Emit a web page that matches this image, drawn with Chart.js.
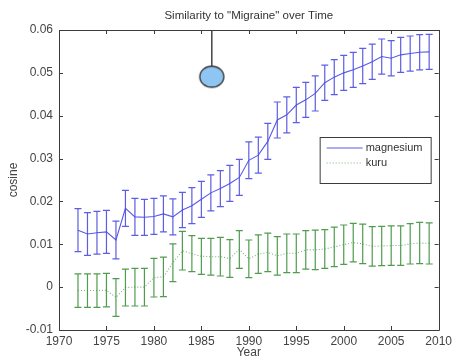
<!DOCTYPE html>
<html><head><meta charset="utf-8">
<script src="https://cdn.jsdelivr.net/npm/chart.js@4/dist/chart.umd.min.js"></script>
<style>html,body{margin:0;padding:0;background:#fff}canvas{display:block}</style>
</head><body>
<canvas id="c" width="456" height="361"></canvas>
<script>
const chartTitle = 'Similarity to "Migraine" over Time';
const xTitle = 'Year';
const yTitle = 'cosine';
const seriesNames = ['magnesium', 'kuru'];
const years = [1972,1973,1974,1975,1976,1977,1978,1979,1980,1981,1982,1983,1984,1985,1986,1987,1988,1989,1990,1991,1992,1993,1994,1995,1996,1997,1998,1999,2000,2001,2002,2003,2004,2005,2006,2007,2008,2009];
const magnesium = [0.0133,0.0124,0.0127,0.0129,0.0110,0.0184,0.0164,0.0163,0.0165,0.0171,0.0164,0.0180,0.0190,0.0205,0.0220,0.0230,0.0242,0.0256,0.0296,0.0308,0.0340,0.0390,0.0402,0.0425,0.0437,0.0452,0.0477,0.0490,0.0500,0.0507,0.0516,0.0526,0.0538,0.0534,0.0542,0.0545,0.0548,0.0549];
const magnesiumErr = [0.0050,0.0050,0.0050,0.0050,0.0044,0.0042,0.0043,0.0042,0.0042,0.0042,0.0042,0.0041,0.0042,0.0042,0.0042,0.0042,0.0042,0.0042,0.0043,0.0042,0.0042,0.0042,0.0042,0.0041,0.0041,0.0041,0.0041,0.0041,0.0041,0.0041,0.0041,0.0041,0.0041,0.0041,0.0041,0.0041,0.0041,0.0041];
const kuru = [-0.0008,-0.0008,-0.0008,-0.0007,-0.0024,-0.0001,0.0000,0.0000,0.0022,0.0024,0.0057,0.0085,0.0078,0.0072,0.0071,0.0071,0.0067,0.0088,0.0066,0.0077,0.0081,0.0073,0.0079,0.0079,0.0087,0.0087,0.0089,0.0094,0.0099,0.0104,0.0101,0.0095,0.0096,0.0097,0.0097,0.0101,0.0103,0.0102];
const kuruErr = [0.0039,0.0039,0.0039,0.0039,0.0044,0.0043,0.0044,0.0044,0.0045,0.0046,0.0044,0.0045,0.0042,0.0042,0.0043,0.0045,0.0044,0.0044,0.0044,0.0045,0.0045,0.0045,0.0045,0.0045,0.0045,0.0046,0.0045,0.0046,0.0046,0.0045,0.0046,0.0046,0.0046,0.0046,0.0046,0.0047,0.0048,0.0048];
const markerYear = [1986.1];
const markerValue = [0.0491];
const xTicks = [1970,1975,1980,1985,1990,1995,2000,2005,2010];
const yTicks = [-0.01,0,0.01,0.02,0.03,0.04,0.05,0.06];

const FONT = '"Liberation Sans", Arial, Helvetica, sans-serif';

// balloon marker image
const balloon = document.createElement('canvas');
balloon.width = 28; balloon.height = 25;
(function(){
  const g = balloon.getContext('2d');
  g.beginPath();
  g.ellipse(14, 12.5, 12, 10.5, 0, 0, Math.PI * 2);
  g.fillStyle = '#8ec5f2';
  g.fill();
  g.lineWidth = 1.4;
  g.strokeStyle = '#3a3a3a';
  g.stroke();
})();

const toXY = (xs, ys) => xs.map((x, i) => ({x: x, y: ys[i]}));

const errorBarPlugin = {
  id: 'errorBars',
  afterDatasetsDraw(chart) {
    const ctx = chart.ctx, xs = chart.scales.x, ys = chart.scales.y;
    chart.data.datasets.forEach((ds, di) => {
      if (!ds.errors) return;
      ctx.save();
      ctx.strokeStyle = ds.errorColor;
      ctx.lineWidth = 1.2;
      ds.data.forEach((p, i) => {
        const e = ds.errors[i];
        const px = xs.getPixelForValue(p.x);
        const t = ys.getPixelForValue(p.y + e);
        const b = ys.getPixelForValue(p.y - e);
        ctx.beginPath();
        ctx.moveTo(px, t); ctx.lineTo(px, b);
        ctx.moveTo(px - 3.5, t); ctx.lineTo(px + 3.5, t);
        ctx.moveTo(px - 3.5, b); ctx.lineTo(px + 3.5, b);
        ctx.stroke();
      });
      ctx.restore();
    });
  }
};

const framePlugin = {
  id: 'frame',
  afterDraw(chart) {
    const ctx = chart.ctx, a = chart.chartArea, xs = chart.scales.x, ys = chart.scales.y;
    ctx.save();
    ctx.strokeStyle = '#3c3c3c';
    ctx.lineWidth = 1;
    ctx.beginPath();
    ctx.rect(Math.round(a.left) + 0.5, Math.round(a.top) + 0.5, Math.round(a.right - a.left), Math.round(a.bottom - a.top));
    xTicks.forEach(v => {
      const px = Math.round(xs.getPixelForValue(v)) + 0.5;
      ctx.moveTo(px, a.bottom); ctx.lineTo(px, a.bottom - 4);
      ctx.moveTo(px, a.top); ctx.lineTo(px, a.top + 4);
    });
    yTicks.forEach(v => {
      const py = Math.round(ys.getPixelForValue(v)) + 0.5;
      ctx.moveTo(a.left, py); ctx.lineTo(a.left + 4, py);
      ctx.moveTo(a.right, py); ctx.lineTo(a.right - 4, py);
    });
    ctx.stroke();

    // title
    ctx.fillStyle = '#333';
    ctx.font = '11.5px ' + FONT;
    ctx.textAlign = 'center';
    ctx.textBaseline = 'middle';
    ctx.fillText(chartTitle, (a.left + a.right) / 2, 16);

    // legend
    const lx = a.right - 119, ly = a.top + 107;
    ctx.fillStyle = '#fff';
    ctx.fillRect(lx, ly, 111, 46);
    ctx.strokeStyle = '#3c3c3c';
    ctx.strokeRect(lx + 0.5, ly + 0.5, 111, 46);
    ctx.font = '11px ' + FONT;
    ctx.textAlign = 'left';
    const legendSets = chart.data.datasets.filter(d => seriesNames.includes(d.label));
    legendSets.forEach((ds, i) => {
      const y = ly + 11 + i * 15;
      ctx.save();
      ctx.strokeStyle = ds.borderColor;
      ctx.lineWidth = ds.borderWidth;
      ctx.setLineDash(ds.borderDash || []);
      ctx.beginPath();
      ctx.moveTo(lx + 7, y); ctx.lineTo(lx + 43, y);
      ctx.stroke();
      ctx.restore();
      ctx.fillStyle = '#333';
      ctx.fillText(ds.label, lx + 46, y);
    });
    ctx.restore();
  }
};

new Chart(document.getElementById('c'), {
  type: 'line',
  data: {
    datasets: [
      {
        label: seriesNames[0],
        data: toXY(years, magnesium),
        errors: magnesiumErr,
        errorColor: 'rgba(75,75,225,0.9)',
        borderColor: 'rgb(90,90,230)',
        borderWidth: 1.1,
        pointRadius: 0,
        tension: 0
      },
      {
        label: seriesNames[1],
        data: toXY(years, kuru),
        errors: kuruErr,
        errorColor: 'rgba(60,145,60,0.9)',
        borderColor: 'rgb(120,175,120)',
        borderWidth: 1.1,
        borderDash: [1, 2],
        pointRadius: 0,
        tension: 0
      },
      {
        label: 'stem',
        data: [{x: markerYear[0], y: yTicks[yTicks.length - 1]}, {x: markerYear[0], y: markerValue[0]}],
        borderColor: '#444',
        borderWidth: 1.5,
        pointRadius: 0,
        clip: false,
        order: -1
      },
      {
        label: 'balloon',
        data: toXY(markerYear, markerValue),
        showLine: false,
        pointStyle: balloon,
        pointRadius: 12,
        clip: false,
        order: -2
      }
    ]
  },
  options: {
    responsive: false,
    animation: false,
    events: [],
    layout: {padding: {top: 30, right: 14.5, left: 0, bottom: 0}},
    plugins: {legend: {display: false}, tooltip: {enabled: false}, title: {display: false}},
    scales: {
      x: {
        type: 'linear',
        min: xTicks[0], max: xTicks[xTicks.length - 1],
        afterBuildTicks: s => { s.ticks = xTicks.map(v => ({value: v})); },
        afterFit: s => { s.height = 31; },
        grid: {display: false, drawTicks: false},
        border: {display: false},
        ticks: {autoSkip: false, maxRotation: 0, padding: 4, color: '#444', font: {family: FONT, size: 12}, callback: v => String(v)},
        title: {display: true, text: xTitle, color: '#444', font: {family: FONT, size: 12}, padding: {top: 0, bottom: 1}}
      },
      y: {
        min: yTicks[0], max: yTicks[yTicks.length - 1],
        afterBuildTicks: s => { s.ticks = yTicks.map(v => ({value: v})); },
        afterFit: s => { s.width = 59; },
        grid: {display: false, drawTicks: false},
        border: {display: false},
        ticks: {padding: 6, color: '#444', font: {family: FONT, size: 12}, callback: v => String(Math.round(v * 100) / 100)},
        title: {display: true, text: yTitle, color: '#444', font: {family: FONT, size: 12}, padding: {top: 6, bottom: 0}}
      }
    }
  },
  plugins: [errorBarPlugin, framePlugin]
});
</script>
</body></html>
